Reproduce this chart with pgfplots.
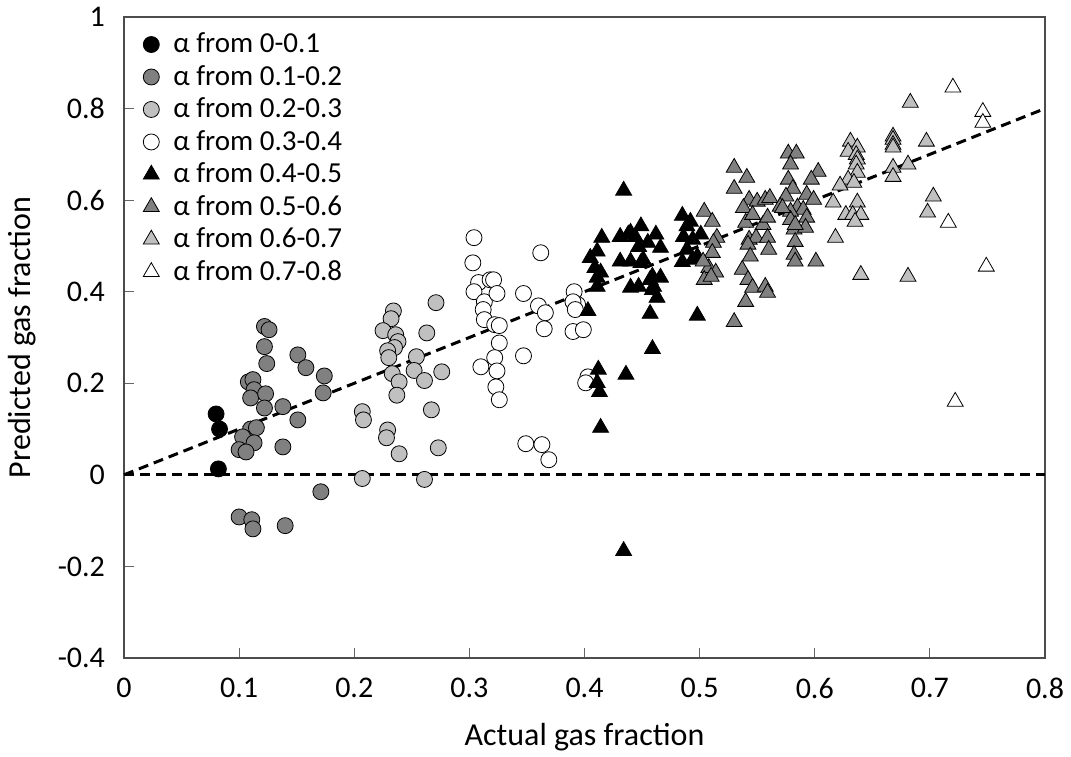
\documentclass[border=0pt]{standalone}
\usepackage{fontspec}
\setmainfont{Carlito}
\usepackage{pgfplots}
\pgfplotsset{compat=1.18}
\definecolor{dg}{HTML}{808080}
\definecolor{lg}{HTML}{C0C0C0}
\begin{document}
\begin{tikzpicture}
\begin{axis}[
  width=460.5pt, height=320.5pt, scale only axis,
  xmin=0, xmax=0.8, ymin=-0.4, ymax=1,
  xtick={0,0.1,0.2,0.3,0.4,0.5,0.6,0.7,0.8},
  xticklabels={0,0.1,0.2,0.3,0.4,0.5,0.6,0.7,0.8},
  ytick={-0.4,-0.2,0,0.2,0.4,0.6,0.8,1},
  yticklabels={-0.4,-0.2,0,0.2,0.4,0.6,0.8,1},
  tick align=inside, xtick pos=bottom, ytick pos=left,
  major tick length=5pt,
  tick style={black!60, line width=0.6pt},
  axis line style={black!70, line width=0.8pt},
  ticklabel style={font=\fontsize{15pt}{17pt}\selectfont},
  yticklabel style={xshift=-6pt},
  xticklabel style={yshift=-6.5pt},
  xlabel={Actual gas fraction}, ylabel={Predicted gas fraction},
  label style={font=\fontsize{16pt}{18pt}\selectfont},
  xlabel style={at={(axis description cs:0.5,-0.1232)}, anchor=center},
  ylabel style={at={(axis description cs:-0.1107,0.5)}, anchor=center},
  legend style={at={(axis description cs:0.014,0.988)}, anchor=north west, draw=none, fill=none,
    font=\fontsize{14.5pt}{16pt}\selectfont, row sep=0.8pt,
    /tikz/every odd column/.append style={column sep=5pt}},
  legend cell align=left,
  every axis plot/.append style={only marks, mark options={line width=0.5pt, draw=black}},
  clip=false,
]
\coordinate (bl) at (rel axis cs:0,0);
\coordinate (tr) at (rel axis cs:1,1);
\addplot[mark=*, mark size=4pt, mark options={fill=black}] coordinates {
(0.080,0.133)(0.083,0.100)(0.082,0.013)};
\addlegendentry{α from 0-0.1}
\addplot[mark=*, mark size=4pt, mark options={fill=dg}] coordinates {
(0.122,0.324)(0.126,0.317)(0.122,0.280)(0.124,0.243)(0.151,0.262)(0.158,0.234)(0.174,0.216)(0.173,0.179)(0.108,0.203)(0.112,0.208)(0.113,0.186)(0.110,0.168)(0.123,0.177)(0.122,0.146)(0.138,0.149)(0.151,0.120)(0.110,0.100)(0.115,0.103)(0.103,0.083)(0.113,0.070)(0.100,0.055)(0.106,0.050)(0.138,0.061)(0.171,-0.037)(0.100,-0.092)(0.111,-0.098)(0.112,-0.118)(0.140,-0.111)};
\addlegendentry{α from 0.1-0.2}
\addplot[mark=*, mark size=4pt, mark options={fill=lg}] coordinates {
(0.234,0.358)(0.232,0.341)(0.225,0.315)(0.236,0.306)(0.238,0.291)(0.235,0.278)(0.229,0.271)(0.230,0.256)(0.271,0.376)(0.263,0.310)(0.254,0.258)(0.252,0.228)(0.233,0.221)(0.239,0.203)(0.261,0.206)(0.276,0.225)(0.237,0.174)(0.267,0.142)(0.207,0.138)(0.208,0.120)(0.229,0.098)(0.228,0.081)(0.273,0.059)(0.239,0.046)(0.207,-0.008)(0.261,-0.010)};
\addlegendentry{α from 0.2-0.3}
\addplot[mark=*, mark size=4pt, mark options={fill=white}] coordinates {
(0.304,0.518)(0.303,0.463)(0.308,0.420)(0.318,0.426)(0.321,0.426)(0.304,0.400)(0.313,0.378)(0.324,0.396)(0.312,0.361)(0.313,0.339)(0.322,0.328)(0.326,0.326)(0.326,0.288)(0.322,0.256)(0.310,0.236)(0.324,0.227)(0.323,0.192)(0.326,0.164)(0.362,0.485)(0.347,0.396)(0.360,0.369)(0.366,0.354)(0.365,0.319)(0.347,0.260)(0.349,0.068)(0.363,0.066)(0.369,0.033)(0.391,0.400)(0.394,0.372)(0.390,0.378)(0.392,0.361)(0.390,0.313)(0.399,0.317)(0.403,0.214)(0.401,0.201)};
\addlegendentry{α from 0.3-0.4}
\addplot[mark=triangle*, mark size=4.6pt, mark options={fill=black}] coordinates {
(0.434,0.621)
(0.415,0.518)(0.411,0.488)(0.405,0.474)(0.409,0.452)(0.411,0.431)(0.411,0.411)(0.403,0.358)
(0.431,0.520)(0.438,0.525)(0.449,0.543)(0.444,0.520)(0.462,0.525)(0.455,0.507)(0.440,0.529)
(0.431,0.466)(0.440,0.466)(0.449,0.463)(0.451,0.470)(0.466,0.496)(0.447,0.498)(0.414,0.442)
(0.459,0.433)(0.466,0.431)(0.457,0.426)(0.440,0.409)(0.447,0.411)(0.459,0.404)(0.463,0.387)(0.460,0.411)
(0.457,0.352)(0.498,0.348)(0.459,0.275)
(0.485,0.566)(0.489,0.543)(0.492,0.553)(0.486,0.520)(0.494,0.514)(0.501,0.525)(0.485,0.465)(0.494,0.470)(0.489,0.492)(0.498,0.477)
(0.412,0.230)(0.411,0.201)(0.413,0.181)(0.414,0.103)(0.436,0.219)(0.434,-0.166)};
\addlegendentry{α from 0.4-0.5}
\addplot[mark=triangle*, mark size=4.6pt, mark options={fill=dg}] coordinates {
(0.504,0.575)(0.511,0.553)(0.515,0.518)(0.512,0.507)(0.511,0.485)(0.508,0.452)(0.514,0.442)(0.504,0.426)(0.510,0.433)(0.503,0.466)
(0.530,0.671)(0.541,0.649)(0.530,0.625)(0.543,0.601)(0.538,0.583)(0.550,0.597)(0.557,0.601)(0.561,0.605)(0.540,0.551)(0.546,0.568)(0.555,0.546)(0.559,0.562)(0.543,0.514)(0.549,0.518)(0.559,0.518)(0.560,0.492)(0.542,0.503)(0.544,0.477)(0.537,0.448)(0.542,0.426)(0.546,0.409)(0.557,0.411)(0.559,0.398)(0.540,0.378)(0.530,0.334)
(0.577,0.702)(0.584,0.702)(0.579,0.678)(0.603,0.662)(0.577,0.645)(0.597,0.645)(0.581,0.625)(0.593,0.612)(0.575,0.608)(0.599,0.601)(0.570,0.586)(0.585,0.584)(0.590,0.579)(0.579,0.575)(0.579,0.557)(0.593,0.562)(0.582,0.536)(0.592,0.540)(0.583,0.509)(0.582,0.481)(0.583,0.466)(0.601,0.466)(0.572,0.583)(0.583,0.546)};
\addlegendentry{α from 0.5-0.6}
\addplot[mark=triangle*, mark size=4.6pt, mark options={fill=lg}] coordinates {
(0.631,0.728)(0.637,0.715)(0.629,0.706)(0.636,0.699)(0.637,0.689)(0.636,0.678)(0.637,0.660)(0.629,0.645)(0.634,0.638)(0.622,0.632)(0.616,0.595)(0.637,0.595)(0.627,0.568)(0.633,0.568)(0.640,0.568)(0.635,0.553)(0.618,0.518)(0.640,0.437)
(0.668,0.739)(0.668,0.732)(0.668,0.721)(0.668,0.715)(0.668,0.671)(0.668,0.651)(0.681,0.678)(0.697,0.728)(0.703,0.608)(0.698,0.573)(0.681,0.433)(0.683,0.813)};
\addlegendentry{α from 0.6-0.7}
\addplot[mark=triangle*, mark size=4.6pt, mark options={fill=white}] coordinates {
(0.720,0.846)(0.746,0.793)(0.746,0.769)(0.716,0.551)(0.749,0.455)(0.722,0.160)};
\addlegendentry{α from 0.7-0.8}
\addplot[no marks, sharp plot, black, line width=1.5pt, dash pattern=on 5pt off 3pt, forget plot] coordinates {(0,0)(0.8,0.8)};
\addplot[no marks, sharp plot, black, line width=1.5pt, dash pattern=on 5pt off 3pt, forget plot] coordinates {(0,0)(0.8,0)};
\end{axis}
\pgfresetboundingbox
\path ([xshift=-62pt,yshift=-49.5pt]bl) rectangle ([xshift=13pt,yshift=8.5pt]tr);
\end{tikzpicture}
\end{document}
